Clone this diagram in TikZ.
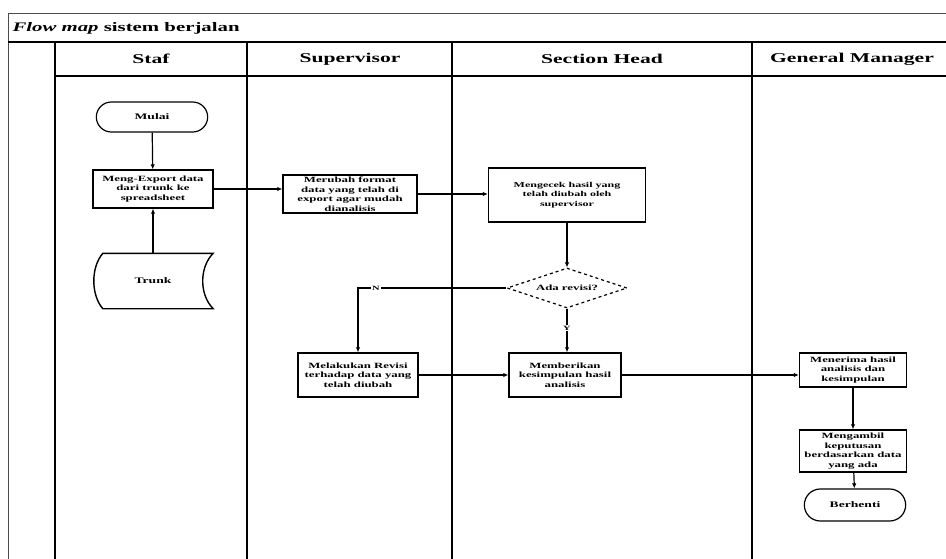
\documentclass[tikz,border=0pt]{standalone}
\usepackage{fontspec}
\setmainfont{Liberation Serif}[FakeStretch=1.6]
\usetikzlibrary{shapes.misc,shapes.geometric,arrows.meta}

\begin{document}
\begin{tikzpicture}[x=1pt,y=-1pt,
  lane/.style={line width=1.7pt},
  frame/.style={line width=1pt,black!70},
  procbox/.style={draw,line width=1.4pt,align=center,inner sep=1pt,
    font=\bfseries\fontsize{8}{9.5}\selectfont},
  terminal/.style={draw,rounded rectangle,line width=1.2pt,align=center,
    font=\bfseries\fontsize{8.5}{10}\selectfont},
  decision/.style={draw,diamond,aspect=3,line width=1.2pt,dashed,inner sep=0pt,
    font=\bfseries\fontsize{8}{9}\selectfont},
  headtext/.style={font=\bfseries\fontsize{13.5}{15}\selectfont},
  flow/.style={line width=1.2pt,-{Latex[length=5pt,width=4.5pt]}},
  branch/.style={font=\bfseries\fontsize{6.5}{7}\selectfont,fill=white,inner sep=1pt}
]
\useasboundingbox (0,0) rectangle (946,559);

% ---- swimlane frame ----
\draw[frame] (8,14) -- (946,14);
\draw[frame] (8,14) -- (8,559);
\draw[lane] (8,42) -- (946,42);
\draw[lane] (55,76) -- (946,76);
\draw[lane] (55,42) -- (55,559);
\draw[lane] (247,42) -- (247,559);
\draw[lane] (452,42) -- (452,559);
\draw[lane] (752,42) -- (752,559);

\node[anchor=west,font=\bfseries\fontsize{13}{15}\selectfont] (title) at (9,28)
  {\itshape Flow map\upshape{} sistem berjalan};

\node[headtext] (hstaf) at (151,59) {Staf};
\node[headtext] (hsup)  at (350,59) {Supervisor};
\node[headtext] (hsec)  at (602,59) {Section Head};
\node[headtext] (hgm)   at (852,59) {General Manager};

% ---- Staf ----
\node[terminal,minimum width=118pt,minimum height=30pt] (mulai) at (152,117) {Mulai};
\node[procbox,minimum width=120pt,minimum height=38pt] (export) at (153,189)
  {Meng-Export data\\dari trunk ke\\spreadsheet};
\node[minimum width=120pt,minimum height=55pt,font=\bfseries\fontsize{8.5}{10}\selectfont] (trunk) at (153,281) {Trunk};
\coordinate (ttl) at ([xshift=10pt]trunk.north west);
\coordinate (tbl) at ([xshift=10pt]trunk.south west);
\coordinate (ttr) at (trunk.north east);
\coordinate (tbr) at (trunk.south east);
\draw[line width=1.4pt] (ttl) -- (ttr) .. controls +(-14,14) and +(-14,-14) .. (tbr)
  -- (tbl) .. controls +(-12,-14) and +(-12,14) .. (ttl) -- cycle;

% ---- Supervisor ----
\node[procbox,minimum width=134pt,minimum height=38pt] (ubah) at (350,194)
  {Merubah format\\data yang telah di\\export agar mudah\\dianalisis};
\node[procbox,minimum width=120pt,minimum height=44pt] (lakukan) at (358,375)
  {Melakukan Revisi\\terhadap data yang\\telah diubah};

% ---- Section Head ----
\node[procbox,minimum width=157pt,minimum height=54pt,
  font=\bfseries\fontsize{7.5}{9.5}\selectfont] (cek) at (567,195)
  {Mengecek hasil yang\\telah diubah oleh\\supervisor};
\node[decision,minimum width=120pt,minimum height=40pt] (revisi) at (567,288) {Ada revisi?};
\node[procbox,minimum width=112pt,minimum height=44pt] (beri) at (565,375)
  {Memberikan\\kesimpulan hasil\\analisis};

% ---- General Manager ----
\node[procbox,minimum width=107pt,minimum height=34pt] (terima) at (853,370)
  {Menerima hasil\\analisis dan\\kesimpulan};
\node[procbox,minimum width=107pt,minimum height=42pt] (ambil) at (853,451)
  {Mengambil\\keputusan\\berdasarkan data\\yang ada};
\node[terminal,minimum width=108pt,minimum height=32pt] (stop) at (855,505) {Berhenti};

% ---- connectors ----
\draw[flow] (mulai) -- (export);
\draw[flow] (trunk.north) -- (export.south);
\draw[flow] (export.east) -- (export.east -| ubah.west);
\draw[flow] (ubah.east) -- (ubah.east -| cek.west);
\draw[flow] (cek.south -| revisi.north) -- (revisi.north);
\draw[flow] (revisi.west) -| node[branch,pos=0.44] {N} (lakukan.north);
\draw[flow] (revisi.south) -- node[branch,pos=0.45] {Y} (revisi.south |- beri.north);
\draw[flow] (lakukan.east) -- (lakukan.east -| beri.west);
\draw[flow] (beri.east) -- (beri.east -| terima.west);
\draw[flow] (terima) -- (ambil);
\draw[flow] (ambil) -- (stop);
\end{tikzpicture}
\end{document}
